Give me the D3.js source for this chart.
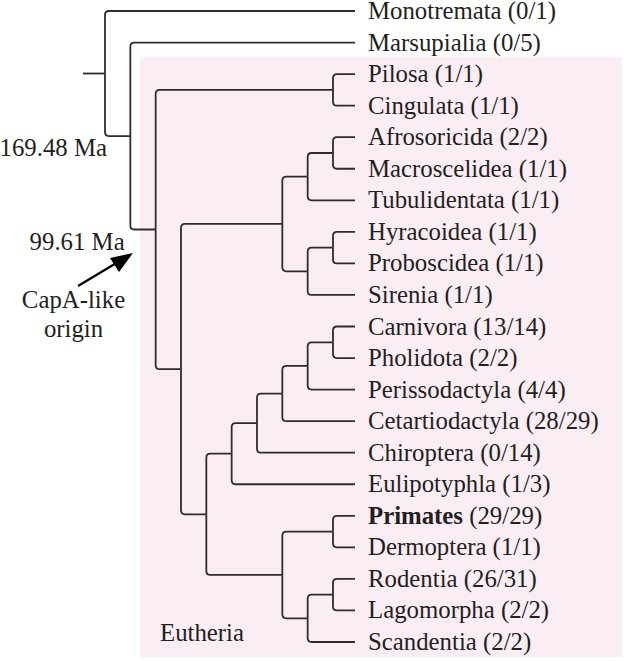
<!DOCTYPE html>
<html>
<head>
<meta charset="utf-8">
<script src="https://cdn.jsdelivr.net/npm/d3@7"></script>
</head>
<body style="margin:0">
<svg id="chart" width="624" height="661" font-family="Liberation Serif"></svg>
<script>
// ---- Data ----
const leafNames = ["Monotremata","Marsupialia","Pilosa","Cingulata","Afrosoricida","Macroscelidea",
  "Tubulidentata","Hyracoidea","Proboscidea","Sirenia","Carnivora","Pholidota","Perissodactyla",
  "Cetartiodactyla","Chiroptera","Eulipotyphla","Primates","Dermoptera","Rodentia","Lagomorpha","Scandentia"];
const leafFound = [0,0,1,1,2,1,1,1,1,1,13,2,4,28,0,1,29,1,26,2,2];
const leafTotal = [1,5,1,1,2,1,1,1,1,1,14,2,4,29,14,3,29,1,31,2,2];
const leafParents = ["Mammalia","Theria","Xenarthra","Xenarthra","Afrosoricida+Macroscelidea","Afrosoricida+Macroscelidea",
  "Afroinsectiphilia","Hyracoidea+Proboscidea","Hyracoidea+Proboscidea","Paenungulata","Carnivora+Pholidota","Carnivora+Pholidota",
  "Fereuungulata3","Fereuungulata2","Scrotifera","Laurasiatheria","Euarchonta","Euarchonta","Glires","Glires","Glires+Scandentia"];
const boldLeaves = ["Primates"];

const nodeIds = ["Mammalia","Theria","Eutheria","Xenarthra","Epitheria","Afrotheria","Afroinsectiphilia",
  "Afrosoricida+Macroscelidea","Paenungulata","Hyracoidea+Proboscidea","Boreoeutheria","Laurasiatheria",
  "Scrotifera","Fereuungulata2","Fereuungulata3","Carnivora+Pholidota","Euarchontoglires","Euarchonta",
  "Glires+Scandentia","Glires"];
const nodeParents = [null,"Mammalia","Theria","Eutheria","Eutheria","Epitheria","Afrotheria",
  "Afroinsectiphilia","Afrotheria","Paenungulata","Epitheria","Boreoeutheria",
  "Laurasiatheria","Scrotifera","Fereuungulata2","Fereuungulata3","Boreoeutheria","Euarchontoglires",
  "Euarchontoglires","Glires+Scandentia"];
const nodeLevels = [0,1,2,9,3,7,8,9,8,9,4,5,6,7,8,9,7,9,8,9];

const ageLabels = ["169.48 Ma", "99.61 Ma"];
const cladeLabel = "Eutheria";
const annotationLines = ["CapA-like", "origin"];

// ---- Layout ----
const FONT = "Liberation Serif";
const fontSize = 24.8;
const svg = d3.select("#chart");
const leafIndex = new Map(leafNames.map((d, i) => [d, i]));
const yScale = d3.scaleLinear().domain([0, leafNames.length - 1]).range([11, 642]);
const xScale = d3.scaleLinear().domain([0, 9]).range([105, 333]);
const leafEndX = 355;
const stubLen = 22;

function txt(sel) {
  return sel.append("text")
    .attr("font-family", FONT).style("font-family", FONT)
    .style("font-size", fontSize + "px").attr("fill", "#231f20");
}

const rows = nodeIds.map((id, i) => ({id, parent: nodeParents[i], level: nodeLevels[i], leaf: false}))
  .concat(leafNames.map((id, i) => ({id, parent: leafParents[i], leaf: true, index: i})));
const root = d3.stratify().id(d => d.id).parentId(d => d.parent)(rows);
root.sort((a, b) => d3.min(a.leaves(), l => l.data.index) - d3.min(b.leaves(), l => l.data.index));
root.eachAfter(n => {
  if (n.data.leaf) { n.y = yScale(n.data.index); n.x = leafEndX; }
  else {
    const ys = n.children.map(c => c.y);
    n.y = (d3.min(ys) + d3.max(ys)) / 2;
    n.x = xScale(n.data.level);
  }
});
const nodeById = new Map(root.descendants().map(n => [n.id, n]));

// Background clade box (Eutheria)
const eutheria = nodeById.get("Eutheria");
const eLeaves = eutheria.leaves();
const boxTop = yScale(leafIndex.get(eLeaves[0].id)) - 17;
const boxBottom = yScale(leafIndex.get(eLeaves[eLeaves.length - 1].id)) + 15;
svg.append("rect")
  .attr("x", 140).attr("y", boxTop)
  .attr("width", 482).attr("height", boxBottom - boxTop)
  .attr("fill", "#fbedf4");

// Links
const r = 4;
function elbow(l) {
  const px = l.source.x, py = l.source.y, cx = l.target.x, cy = l.target.y;
  const s = cy < py ? 1 : -1;
  return `M${px},${py} V${cy + s * r} Q${px},${cy} ${px + r},${cy} H${cx}`;
}
const g = svg.append("g").attr("fill", "none").attr("stroke", "#2e2c2e").attr("stroke-width", 1.8);
g.selectAll("path.link").data(root.links()).join("path").attr("class", "link").attr("d", elbow);
g.append("path").attr("d", `M${root.x - stubLen},${root.y} H${root.x}`);

// Leaf labels
const lab = svg.append("g");
root.leaves().forEach(l => {
  const i = l.data.index;
  const t = txt(lab).attr("x", 368).attr("y", l.y + 8);
  t.append("tspan").attr("font-weight", boldLeaves.includes(l.id) ? "bold" : "normal").text(l.id);
  t.append("tspan").text(` (${leafFound[i]}/${leafTotal[i]})`);
});

const other = svg.append("g");
// Node age labels
const mam = nodeById.get("Mammalia"), ther = nodeById.get("Theria"), eut = nodeById.get("Eutheria");
txt(other).attr("text-anchor", "end")
  .attr("x", mam.x + 2).attr("y", ther.y + 20).text(ageLabels[0]);
txt(other).attr("text-anchor", "end")
  .attr("x", eut.x - 31).attr("y", eut.y + 20).text(ageLabels[1]);

// Arrow annotation
svg.append("line")
  .attr("x1", 78).attr("y1", 286).attr("x2", 118).attr("y2", 262)
  .attr("stroke", "#000").attr("stroke-width", 2.2);
svg.append("path")
  .attr("d", "M133,253 L110,258 L119,272 Z").attr("fill", "#000");
annotationLines.forEach((t, i) => {
  txt(other).attr("text-anchor", "middle")
    .attr("x", 73.5).attr("y", 308 + i * 29).text(t);
});

// Clade label
txt(other).attr("x", 160).attr("y", 641).text(cladeLabel);
</script>
</body>
</html>
